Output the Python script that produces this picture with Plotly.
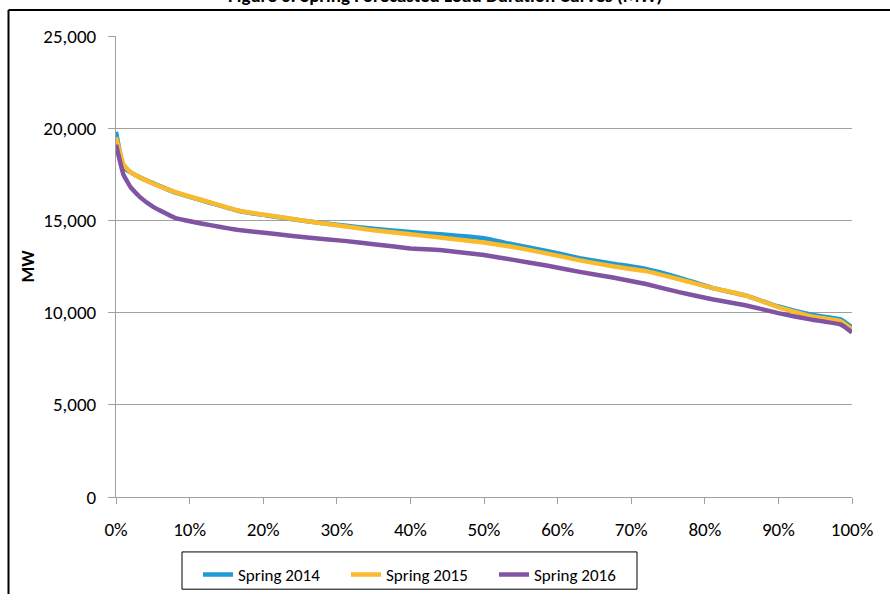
import plotly.graph_objects as go

pct = [0, 1, 2, 3.3, 5, 8, 13, 17, 22, 26, 31, 35, 40, 44, 50, 54, 58.5, 63,
       67.5, 72, 76.5, 81, 85.5, 90, 94.5, 98.5, 100]
spring_2014 = [19800, 17900, 17600, 17320, 17020, 16520, 15930, 15480, 15180, 14950,
               14720, 14550, 14370, 14250, 14030, 13690, 13350, 12950, 12650, 12370,
               11900, 11340, 10930, 10330, 9880, 9620, 9200]
spring_2015 = [19500, 18050, 17600, 17320, 17000, 16540, 15950, 15500, 15200, 14950,
               14680, 14460, 14250, 14070, 13800, 13560, 13210, 12830, 12510, 12250,
               11810, 11340, 10930, 10300, 9790, 9530, 9090]
spring_2016 = [19100, 17500, 16790, 16250, 15750, 15140, 14730, 14460, 14250, 14070,
               13890, 13710, 13480, 13390, 13120, 12860, 12550, 12210, 11900, 11550,
               11110, 10720, 10400, 9970, 9620, 9350, 8930]

series = [("Spring 2014", spring_2014, "#1E9BD7"),
          ("Spring 2015", spring_2015, "#FBB92C"),
          ("Spring 2016", spring_2016, "#8054A2")]

title_text = "Figure 6: Spring Forecasted Load Duration Curves (MW)"

FONT = "Carlito, Lato, sans-serif"

fig = go.Figure()
for name, vals, col in series:
    fig.add_trace(go.Scatter(x=pct, y=vals, name=name, mode="lines",
                             line=dict(color=col, width=4.5, shape="spline", smoothing=0.3)))

W, H = 890, 605
L, R, T, B = 116, 38, 36, 99
pw, ph = W - L - R, H - T - B

def px_x(x):
    return (x - L) / pw

def px_y(y):
    return (H - B - y) / ph

fig.update_layout(
    width=W, height=H,
    margin=dict(l=L, r=R, t=T, b=B),
    paper_bgcolor="white", plot_bgcolor="white",
    font=dict(family=FONT, size=18, color="black"),
    showlegend=True,
    legend=dict(orientation="h", x=px_x(198), y=px_y(567), xanchor="left", yanchor="top",
                bgcolor="rgba(0,0,0,0)", borderwidth=0,
                entrywidth=103, entrywidthmode="pixels",
                font=dict(family=FONT, size=17, color="black")),
    xaxis=dict(range=[0, 100], tick0=0, dtick=10, ticksuffix="%",
               showgrid=False, zeroline=False,
               showline=True, linecolor="#A0A0A0", linewidth=1,
               ticks="outside", ticklen=6, tickcolor="#A0A0A0",
               ticklabelstandoff=9,
               tickfont=dict(family=FONT, size=19, color="black")),
    yaxis=dict(range=[0, 25000], tick0=0, dtick=5000, tickformat=",",
               showgrid=True, gridcolor="#A0A0A0", gridwidth=1, zeroline=False,
               showline=True, linecolor="#A0A0A0", linewidth=1,
               ticks="outside", ticklen=7, tickcolor="#A0A0A0",
               ticklabelstandoff=8,
               title=dict(text="<b>MW</b>", standoff=4,
                          font=dict(family=FONT, size=18, color="black")),
               tickfont=dict(family=FONT, size=19, color="black")),
)

fig.add_annotation(text="<b>" + title_text + "</b>", xref="paper", yref="paper",
                   x=px_x(445), y=px_y(8), xanchor="center", yanchor="bottom",
                   showarrow=False, font=dict(family=FONT, size=19, color="black"))

# outer chart border (top and left edges only are visible)
fig.add_shape(type="line", xref="paper", yref="paper",
              x0=px_x(8.5), x1=px_x(890), y0=px_y(9.5), y1=px_y(9.5),
              line=dict(color="black", width=2))
fig.add_shape(type="line", xref="paper", yref="paper",
              x0=px_x(8.5), x1=px_x(8.5), y0=px_y(9.5), y1=px_y(605),
              line=dict(color="black", width=2))
# legend box
fig.add_shape(type="rect", xref="paper", yref="paper",
              x0=px_x(182), x1=px_x(637), y0=px_y(600), y1=px_y(562),
              line=dict(color="black", width=1), fillcolor="rgba(0,0,0,0)", layer="below")

fig.write_html("out.html")
